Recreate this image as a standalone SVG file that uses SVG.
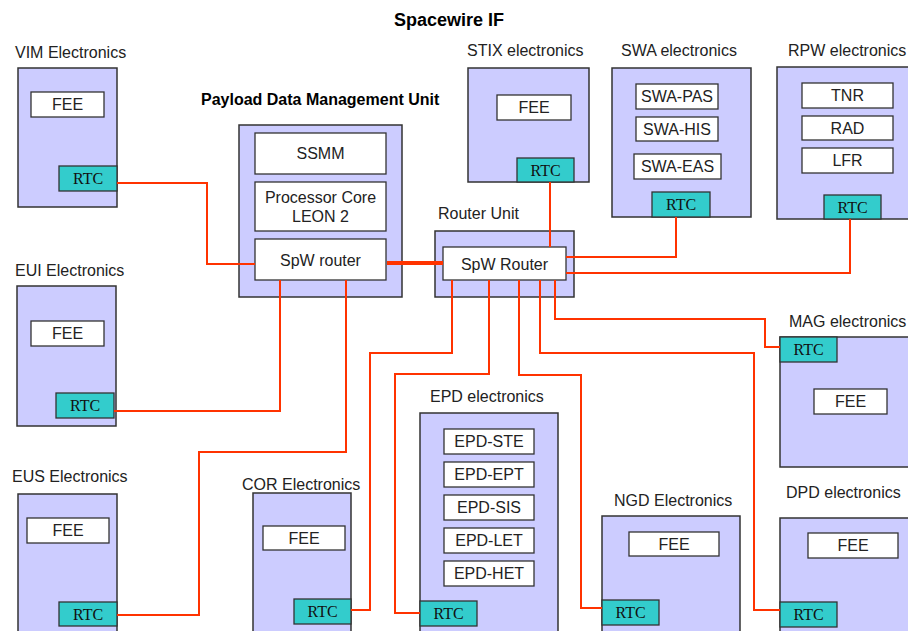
<svg xmlns="http://www.w3.org/2000/svg" width="908" height="631" viewBox="0 0 908 631">
<style>
.box{fill:#CCCCFF;stroke:#333;stroke-width:1.5}
.sub{fill:#fff;stroke:#333;stroke-width:1.3}
.rtc{fill:#33CCCC;stroke:#333;stroke-width:1.3}
.lbl{font-family:"Liberation Sans",Arial,sans-serif;font-size:16px;fill:#222}
.t{font-family:"Liberation Sans",Arial,sans-serif;font-size:16px;fill:#222;text-anchor:middle}
.r{font-family:"Liberation Serif","Times New Roman",serif;font-size:16px;fill:#111;text-anchor:middle}
.b{font-family:"Liberation Sans",Arial,sans-serif;font-weight:bold;fill:#000}
.w{fill:none;stroke:#FF3300;stroke-width:2}
.thick{fill:none;stroke:#FF3300;stroke-width:4}
</style>
<rect width="908" height="631" fill="#fff"/>
<text class="b" x="394" y="26" font-size="18">Spacewire IF</text>

<g id="pdmu">
<text class="b" x="201" y="105" font-size="16">Payload Data Management Unit</text>
<rect class="box" x="239" y="125" width="163" height="172"/>
<rect class="sub" x="255" y="133" width="131" height="41"/>
<text class="t" x="320.5" y="159">SSMM</text>
<rect class="sub" x="255" y="182" width="131" height="49"/>
<text class="t" x="320.5" y="203">Processor Core</text>
<text class="t" x="320.5" y="222">LEON 2</text>
<rect class="sub" x="255" y="239" width="131" height="41"/>
<text class="t" x="320.5" y="266">SpW router</text>
</g>

<g id="router">
<text class="lbl" x="438" y="219">Router Unit</text>
<rect class="box" x="435" y="231" width="139" height="66"/>
<rect class="sub" x="443" y="247" width="123" height="33"/>
<text class="t" x="504.5" y="270">SpW Router</text>
</g>

<g id="vim">
<text class="lbl" x="15" y="58">VIM Electronics</text>
<rect class="box" x="18" y="68" width="99" height="139"/>
<rect class="sub" x="31" y="92" width="73" height="25"/>
<text class="t" x="67.5" y="110">FEE</text>
<rect class="rtc" x="59" y="166" width="58" height="25"/>
<text class="r" x="88" y="184">RTC</text>
</g>

<g id="eui">
<text class="lbl" x="15" y="276">EUI Electronics</text>
<rect class="box" x="17" y="286" width="99" height="140"/>
<rect class="sub" x="31" y="321" width="73" height="25"/>
<text class="t" x="67.5" y="339">FEE</text>
<rect class="rtc" x="56" y="393" width="58" height="25"/>
<text class="r" x="85" y="411">RTC</text>
</g>

<g id="eus">
<text class="lbl" x="12" y="482">EUS Electronics</text>
<rect class="box" x="18" y="494" width="99" height="150"/>
<rect class="sub" x="27" y="518" width="82" height="25"/>
<text class="t" x="68" y="536">FEE</text>
<rect class="rtc" x="59" y="602" width="58" height="24"/>
<text class="r" x="88" y="620">RTC</text>
</g>

<g id="cor">
<text class="lbl" x="242" y="490">COR Electronics</text>
<rect class="box" x="253" y="493" width="98" height="150"/>
<rect class="sub" x="263" y="526" width="82" height="24"/>
<text class="t" x="304" y="544">FEE</text>
<rect class="rtc" x="294" y="599" width="57" height="25"/>
<text class="r" x="322.5" y="617">RTC</text>
</g>

<g id="epd">
<text class="lbl" x="430" y="402">EPD electronics</text>
<rect class="box" x="420" y="413" width="138" height="230"/>
<rect class="sub" x="444" y="429" width="90" height="25"/>
<text class="t" x="489" y="447">EPD-STE</text>
<rect class="sub" x="444" y="462" width="90" height="25"/>
<text class="t" x="489" y="480">EPD-EPT</text>
<rect class="sub" x="444" y="495" width="90" height="25"/>
<text class="t" x="489" y="513">EPD-SIS</text>
<rect class="sub" x="444" y="528" width="90" height="25"/>
<text class="t" x="489" y="546">EPD-LET</text>
<rect class="sub" x="444" y="561" width="90" height="25"/>
<text class="t" x="489" y="579">EPD-HET</text>
<rect class="rtc" x="420" y="601" width="57" height="25"/>
<text class="r" x="448.5" y="619">RTC</text>
</g>

<g id="ngd">
<text class="lbl" x="614" y="506">NGD Electronics</text>
<rect class="box" x="602" y="516" width="138" height="130"/>
<rect class="sub" x="629" y="532" width="90" height="24"/>
<text class="t" x="674" y="550">FEE</text>
<rect class="rtc" x="602" y="600" width="57" height="25"/>
<text class="r" x="630.5" y="618">RTC</text>
</g>

<g id="stix">
<text class="lbl" x="467" y="56">STIX electronics</text>
<rect class="box" x="468" y="68" width="121" height="114"/>
<rect class="sub" x="497" y="95" width="74" height="25"/>
<text class="t" x="534" y="113">FEE</text>
<rect class="rtc" x="517" y="158" width="57" height="24"/>
<text class="r" x="545.5" y="176">RTC</text>
</g>

<g id="swa">
<text class="lbl" x="621" y="56">SWA electronics</text>
<rect class="box" x="612" y="68" width="139" height="149"/>
<rect class="sub" x="636" y="84" width="82" height="25"/>
<text class="t" x="677" y="102">SWA-PAS</text>
<rect class="sub" x="636" y="117" width="82" height="24"/>
<text class="t" x="677" y="135">SWA-HIS</text>
<rect class="sub" x="634" y="154" width="87" height="25"/>
<text class="t" x="677.5" y="172">SWA-EAS</text>
<rect class="rtc" x="652" y="192" width="58" height="25"/>
<text class="r" x="681" y="210">RTC</text>
</g>

<g id="rpw">
<text class="lbl" x="788" y="56">RPW electronics</text>
<rect class="box" x="777" y="67" width="140" height="152"/>
<rect class="sub" x="802" y="83" width="91" height="25"/>
<text class="t" x="847.5" y="101">TNR</text>
<rect class="sub" x="802" y="116" width="91" height="24"/>
<text class="t" x="847.5" y="134">RAD</text>
<rect class="sub" x="802" y="148" width="91" height="25"/>
<text class="t" x="847.5" y="166">LFR</text>
<rect class="rtc" x="824" y="195" width="57" height="24"/>
<text class="r" x="852.5" y="213">RTC</text>
</g>

<g id="mag">
<text class="lbl" x="789" y="327">MAG electronics</text>
<rect class="box" x="780" y="337" width="140" height="130"/>
<rect class="rtc" x="780" y="337" width="57" height="25"/>
<text class="r" x="808.5" y="355">RTC</text>
<rect class="sub" x="814" y="389" width="73" height="25"/>
<text class="t" x="850.5" y="407">FEE</text>
</g>

<g id="dpd">
<text class="lbl" x="786" y="498">DPD electronics</text>
<rect class="box" x="780" y="518" width="140" height="130"/>
<rect class="sub" x="808" y="533" width="90" height="25"/>
<text class="t" x="853" y="551">FEE</text>
<rect class="rtc" x="780" y="602" width="57" height="25"/>
<text class="r" x="808.5" y="620">RTC</text>
</g>

<g id="connectors">
<path class="w" d="M117,183 H207 V264 H255"/>
<path class="w" d="M114,411 H280 V280"/>
<path class="w" d="M117,615 H199 V452 H346 V280"/>
<path class="thick" d="M387,263 H443"/>
<path class="w" d="M550,182 V247"/>
<path class="w" d="M676,217 V257 H566"/>
<path class="w" d="M850,219 V273 H566"/>
<path class="w" d="M351,610 H370 V353 H452 V280"/>
<path class="w" d="M420,613 H395 V374 H489 V280"/>
<path class="w" d="M602,608 H581 V375 H519 V280"/>
<path class="w" d="M780,610 H754 V353 H540 V280"/>
<path class="w" d="M780,347 H765 V319 H555 V280"/>
</g>
</svg>
